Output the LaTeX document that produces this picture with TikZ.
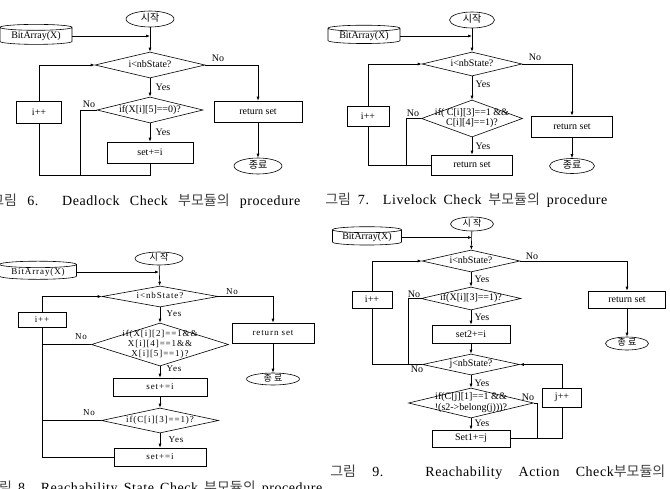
\documentclass[tikz,border=0pt]{standalone}
\usepackage{fontspec}
\setmainfont{Liberation Serif}
\newfontfamily\kfont{Noto Sans CJK KR}
\newfontfamily\wfont[LetterSpace=10]{Liberation Serif}
\newfontfamily\cfont[LetterSpace=4]{Liberation Serif}
\usetikzlibrary{shapes.geometric,arrows.meta}
\newcommand{\dtext}[1]{\smash{\raisebox{-0.25em}{\makebox[0pt]{\begin{tabular}{@{}c@{}}#1\end{tabular}}}}}
\newcommand{\kcap}[1]{{\kfont\color{black!75}#1}}
\begin{document}
\begin{tikzpicture}[
          x=1pt, y=-1pt,
          line width=0.6pt,
          every node/.style={font=\fontsize{10}{10.5}\selectfont, inner sep=0pt},
          proc/.style={draw, rectangle},
          term/.style={draw, ellipse},
          test/.style={draw, diamond},
          store/.style={draw, cylinder, shape border rotate=90, aspect=0.12},
          flow/.style={-{Latex[length=4pt,width=3pt]}},
          tag/.style={font=\fontsize{10}{10}\selectfont},
          narrow/.style={font=\wfont\fontsize{9}{10}\selectfont},
          caption/.style={anchor=base west, font=\cfont\fontsize{14}{14}\selectfont}
        ]
        \useasboundingbox (0,0) rectangle (670,488);

        \node[term, minimum width=48pt, minimum height=16pt] (s6) at (150,19) {\dtext{\kfont 시작}};
        \node[store, minimum width=72pt, minimum height=20pt] (d6) at (36,36) {BitArray(X)};
        \node[test, minimum width=110pt, minimum height=26pt] (c6) at (150,65) {\dtext{i<nbState?}};
        \node[test, minimum width=106pt, minimum height=26pt] (x6) at (150,110) {\dtext{if(X[i][5]==0)?}};
        \node[proc, minimum width=86pt, minimum height=21pt] (a6) at (150,152.5) {set+=i};
        \node[proc, minimum width=45pt, minimum height=22pt] (i6) at (39,112) {i++};
        \node[proc, minimum width=88pt, minimum height=21pt] (r6) at (258,111.5) {return set};
        \node[term, minimum width=48pt, minimum height=16pt] (e6) at (258,166) {\dtext{\kfont 종료}};
        \coordinate (b6) at (39,175);
        \coordinate (n6) at (80,175);
        \node[tag] (no6a) at (218,58) {No};
        \node[tag] (ye6a) at (163,87) {Yes};
        \node[tag] (no6b) at (89,104) {No};
        \node[tag] (ye6b) at (163,132) {Yes};
        \draw[flow] (s6) -- (c6);
        \draw[flow] (d6) -- (d6 -| s6);
        \draw[flow] (c6) -- (x6);
        \draw[flow] (x6) -- (a6);
        \draw[flow] (c6.east) -| (r6.north);
        \draw[flow] (r6) -- (e6);
        \draw (a6.south) |- (b6) -- (i6.south);
        \draw (x6.west) -| (n6);
        \draw[flow] (i6.north) |- (c6.west);
        \node[caption] (cap6) at (-9,205) {\makebox[309pt][s]{\kcap{그림} 6. Deadlock Check \kcap{부모듈의} procedure}};

        \node[term, minimum width=45pt, minimum height=16pt] (s7) at (472,20) {\dtext{\kfont 시작}};
        \node[store, minimum width=72pt, minimum height=18pt] (d7) at (364,36) {BitArray(X)};
        \node[test, minimum width=100pt, minimum height=24pt] (c7) at (472,64) {\dtext{i<nbState?}};
        \node[test, minimum width=101pt, minimum height=37pt] (x7) at (472,118.5) {\dtext{if( C[i][3]==1 \&\&\\C[i][4]==1)?}};
        \node[proc, minimum width=81pt, minimum height=20pt] (a7) at (472,165) {return set};
        \node[proc, minimum width=42pt, minimum height=20pt] (i7) at (368,116) {i++};
        \node[proc, minimum width=81pt, minimum height=21pt] (r7) at (572,126.5) {return set};
        \node[term, minimum width=45pt, minimum height=15pt] (e7) at (572,166) {\dtext{\kfont 종료}};
        \coordinate (n7) at (406,165);
        \node[tag] (no7a) at (535,57) {No};
        \node[tag] (ye7a) at (483,84) {Yes};
        \node[tag] (no7b) at (413,113) {No};
        \node[tag] (ye7b) at (483,146) {Yes};
        \draw[flow] (s7) -- (c7);
        \draw[flow] (d7) -- (d7 -| s7);
        \draw[flow] (c7) -- (x7);
        \draw[flow] (x7) -- (a7);
        \draw[flow] (c7.east) -| (r7.north);
        \draw[flow] (r7) -- (e7);
        \draw (a7.west) -| (i7.south);
        \draw (x7.west) -| (n7);
        \draw[flow] (i7.north) |- (c7.west);
        \node[caption] (cap7) at (325,204) {\makebox[282pt][s]{\kcap{그림} 7. Livelock Check \kcap{부모듈의} procedure}};

        \node[term, minimum width=48pt, minimum height=13pt] (s8) at (159,258.5) {\dtext{\kfont\fontsize{9}{10}\selectfont 시 작}};
        \node[store, narrow, minimum width=77pt, minimum height=17pt] (d8) at (38,272) {BitArray(X)};
        \node[test, narrow, minimum width=116pt, minimum height=21pt] (c8) at (160,296.5) {\dtext{i<nbState?}};
        \node[test, narrow, minimum width=137pt, minimum height=43pt] (x8) at (160,344.5) {\dtext{if(X[i][2]==1\&\&\\X[i][4]==1\&\&\\X[i][5]==1)?}};
        \node[proc, narrow, minimum width=94pt, minimum height=18pt] (a8) at (160,387) {set+=i};
        \node[test, narrow, minimum width=117pt, minimum height=25pt] (y8) at (160,420.5) {\dtext{if(C[i][3]==1)?}};
        \node[proc, narrow, minimum width=92pt, minimum height=18pt] (b8) at (160,457) {set+=i};
        \node[proc, narrow, minimum width=48pt, minimum height=15pt] (i8) at (42,319.5) {i++};
        \node[proc, narrow, minimum width=82pt, minimum height=20pt] (r8) at (273,333) {return set};
        \node[term, minimum width=53pt, minimum height=12pt] (e8) at (273,379) {\dtext{\kfont\fontsize{9}{10}\selectfont 종 료}};
        \node[tag, narrow] (no8a) at (232,292) {No};
        \node[tag, narrow] (ye8a) at (174,314) {Yes};
        \node[tag, narrow] (no8b) at (81,337) {No};
        \node[tag, narrow] (ye8b) at (174,369) {Yes};
        \node[tag, narrow] (no8c) at (89,413) {No};
        \node[tag, narrow] (ye8c) at (176,440) {Yes};
        \draw[flow] (s8) -- (c8);
        \draw[flow] (d8) -- (d8 -| s8);
        \draw[flow] (c8) -- (x8);
        \draw[flow] (x8) -- (a8);
        \draw[flow] (a8) -- (y8);
        \draw[flow] (y8) -- (b8);
        \draw[flow] (c8.east) -| (r8.north);
        \draw[flow] (r8) -- (e8);
        \draw (b8.west) -| (i8.south);
        \draw (x8.west) -- (x8.west -| i8);
        \draw (y8.west) -- (y8.west -| i8);
        \draw[flow] (i8.north) |- (c8.west);
        \node[caption] (cap8) at (-14,492) {\makebox[336pt][s]{\kcap{그림} 8. Reachability State Check \kcap{부모듈의} procedure}};

        \node[term, minimum width=43pt, minimum height=14pt] (s9) at (472,224) {\dtext{\kfont\fontsize{9}{10}\selectfont 시 작}};
        \node[store, minimum width=69pt, minimum height=15pt] (d9) at (367,237.5) {BitArray(X)};
        \node[test, minimum width=98pt, minimum height=22pt] (c9) at (471,261) {\dtext{i<nbState?}};
        \node[test, minimum width=100pt, minimum height=23pt] (x9) at (471,298.5) {\dtext{if(X[i][3]==1)?}};
        \node[proc, minimum width=78pt, minimum height=18pt] (a9) at (471,334) {set2+=i};
        \node[test, minimum width=97pt, minimum height=21pt] (j9) at (471,364.5) {\dtext{j<nbState?}};
        \node[test, minimum width=125pt, minimum height=30pt] (y9) at (471,403) {\dtext{if(C[j][1]==1 \&\&\\!(s2->belong(j)))?}};
        \node[proc, minimum width=78pt, minimum height=17pt] (b9) at (471,438.5) {Set1+=j};
        \node[proc, minimum width=40pt, minimum height=17pt] (i9) at (372,299.5) {i++};
        \node[proc, minimum width=39pt, minimum height=19pt] (k9) at (562,397.5) {j++};
        \node[proc, minimum width=77pt, minimum height=17pt] (r9) at (627,299.5) {return set};
        \node[term, minimum width=43pt, minimum height=13pt] (e9) at (627,343.5) {\dtext{\kfont\fontsize{9}{10}\selectfont 종 료}};
        \coordinate (n9a) at (408,364.5);
        \coordinate (n9b) at (537,438.5);
        \node[tag] (no9a) at (532,256) {No};
        \node[tag] (ye9a) at (482,279) {Yes};
        \node[tag] (no9b) at (414,294) {No};
        \node[tag] (ye9b) at (482,317) {Yes};
        \node[tag] (no9c) at (417,369) {No};
        \node[tag] (ye9c) at (482,383) {Yes};
        \node[tag] (no9d) at (528,397) {No};
        \node[tag] (ye9d) at (482,423) {Yes};
        \draw[flow] (s9) -- (c9);
        \draw[flow] (d9) -- (d9 -| s9);
        \draw[flow] (c9) -- (x9);
        \draw[flow] (x9) -- (a9);
        \draw[flow] (a9) -- (j9);
        \draw[flow] (j9) -- (y9);
        \draw[flow] (y9) -- (b9);
        \draw[flow] (c9.east) -| (r9.north);
        \draw[flow] (r9) -- (e9);
        \draw (x9.west) -| (n9a);
        \draw (j9.west) -| (i9.south);
        \draw[flow] (i9.north) |- (c9.west);
        \draw (y9.east) -| (n9b);
        \draw (b9.east) -| (k9.south);
        \draw[flow] (k9.north) |- (j9.east);
        \node[caption] (cap9) at (330,476) {\makebox[335pt][s]{\kcap{그림} 9. Reachability Action Check\kcap{부모듈의}}};
        \end{tikzpicture}
\end{document}
